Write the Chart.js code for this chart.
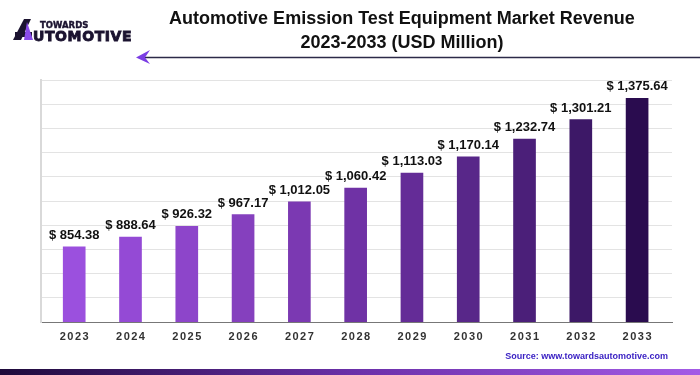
<!DOCTYPE html>
<html>
<head>
<meta charset="utf-8">
<script src="https://cdn.jsdelivr.net/npm/chart.js@4"></script>
<style>
  html, body { margin: 0; padding: 0; background: #fff; }
  #wrap { width: 700px; height: 375px; position: relative; }
</style>
</head>
<body>
<div id="wrap"><canvas id="revenue_canvas"></canvas></div>
<script>
const years = ['2023', '2024', '2025', '2026', '2027', '2028', '2029', '2030', '2031', '2032', '2033'];
const revenue = [854.38, 888.64, 926.32, 967.17, 1012.05, 1060.42, 1113.03, 1170.14, 1232.74, 1301.21, 1375.64];
const axisMin = 590;
const axisMax = 1440;
const axisStep = 85;

const titleLines = ['Automotive Emission Test Equipment Market Revenue', '2023-2033 (USD Million)'];
const sourceText = 'Source: www.towardsautomotive.com';

// light purple -> dark purple, one per bar
const barColors = ['#9b50de', '#944ad5', '#8d45ca', '#8540be', '#7b39b2', '#6f32a5', '#642c97', '#582789', '#4b1f79', '#3d1867', '#2a0c4f'];

const money = new Intl.NumberFormat('en-US', { minimumFractionDigits: 2, maximumFractionDigits: 2 });

const ctx = document.getElementById('revenue_canvas').getContext('2d');

const decorations = {
  id: 'decorations',
  afterDraw(chart) {
    const c = chart.ctx;
    const xs = chart.scales.x;
    const meta = chart.getDatasetMeta(0);
    c.save();

    // value labels above the bars
    c.font = 'bold 13px "Liberation Sans", Arial, sans-serif';
    c.fillStyle = '#111';
    c.textAlign = 'center';
    c.textBaseline = 'bottom';
    meta.data.forEach((bar, i) => {
      c.fillText('$ ' + money.format(revenue[i]), bar.x, bar.y - 5);
    });

    // year labels, spaced out a bit
    c.font = 'bold 11px "Liberation Sans", Arial, sans-serif';
    c.fillStyle = '#333';
    c.textBaseline = 'middle';
    c.letterSpacing = '1.5px';
    years.forEach((y, i) => {
      c.fillText(y, xs.getPixelForValue(i) + 0.75, 337);
    });
    c.letterSpacing = '0px';

    // title
    c.font = 'bold 18px "Liberation Sans", Arial, sans-serif';
    c.fillStyle = '#111';
    c.fillText(titleLines[0], 402, 19);
    c.fillText(titleLines[1], 402, 43);

    // arrow line under the title
    c.strokeStyle = '#2c2a48';
    c.lineWidth = 1.5;
    c.beginPath();
    c.moveTo(140, 57.5);
    c.lineTo(700, 57.5);
    c.stroke();
    c.fillStyle = '#7b3de4';
    c.beginPath();
    c.moveTo(136, 57.5);
    c.lineTo(150, 50);
    c.lineTo(145, 57.5);
    c.lineTo(150, 64);
    c.closePath();
    c.fill();

    // logo
    c.fillStyle = '#1b1330';
    c.beginPath();
    c.moveTo(13, 40);
    c.lineTo(24, 19);
    c.lineTo(31, 19);
    c.lineTo(21, 40);
    c.closePath();
    c.fill();
    c.fillRect(15, 32, 17, 5);
    c.fillStyle = '#8a4bea';
    c.beginPath();
    c.moveTo(27, 22);
    c.lineTo(33, 40);
    c.lineTo(24, 40);
    c.closePath();
    c.fill();
    c.fillStyle = '#1b1330';
    c.strokeStyle = '#1b1330';
    c.textAlign = 'left';
    c.textBaseline = 'alphabetic';
    c.font = 'bold 8.5px "DejaVu Sans", sans-serif';
    c.lineWidth = 0.4;
    c.fillText('TOWARDS', 40, 28);
    c.strokeText('TOWARDS', 40, 28);
    c.font = 'bold 14px "DejaVu Sans", sans-serif';
    c.letterSpacing = '0.6px';
    c.lineWidth = 0.9;
    c.fillText('UTOMOTIVE', 33, 40.5);
    c.strokeText('UTOMOTIVE', 33, 40.5);
    c.letterSpacing = '0px';

    // source note
    c.font = 'bold 9px "Liberation Sans", Arial, sans-serif';
    c.fillStyle = '#3b22c4';
    c.textAlign = 'right';
    c.textBaseline = 'middle';
    c.fillText(sourceText, 668, 357);

    // gradient strip at the bottom
    const g = c.createLinearGradient(0, 0, 700, 0);
    g.addColorStop(0, '#1e0a3a');
    g.addColorStop(0.5, '#6a2fa8');
    g.addColorStop(1, '#a45be6');
    c.fillStyle = g;
    c.fillRect(0, 369, 700, 6);

    c.restore();
  }
};

const config = {
  type: 'bar',
  data: {
    datasets: [{
      label: 'Revenue',
      data: revenue.map((v, i) => ({ x: i, y: v })),
      backgroundColor: barColors,
      barThickness: 22
    }]
  },
  options: {
    responsive: true,
    maintainAspectRatio: false,
    animation: false,
    layout: {
      padding: { left: 41, right: 28, top: 80, bottom: 53 }
    },
    scales: {
      x: {
        type: 'linear',
        offset: false,
        min: -0.59,
        max: 10.62,
        grid: { display: false, drawTicks: false },
        ticks: { display: false },
        border: { color: '#777', width: 1 }
      },
      y: {
        min: axisMin,
        max: axisMax,
        ticks: { display: false, stepSize: axisStep },
        grid: { color: '#e3e3e3', lineWidth: 1, drawTicks: false },
        border: { color: '#d9d9d9', width: 2 }
      }
    },
    plugins: {
      legend: { display: false },
      tooltip: { enabled: false }
    }
  },
  plugins: [decorations]
};

const myChart = new Chart(ctx, config);
</script>
</body>
</html>
